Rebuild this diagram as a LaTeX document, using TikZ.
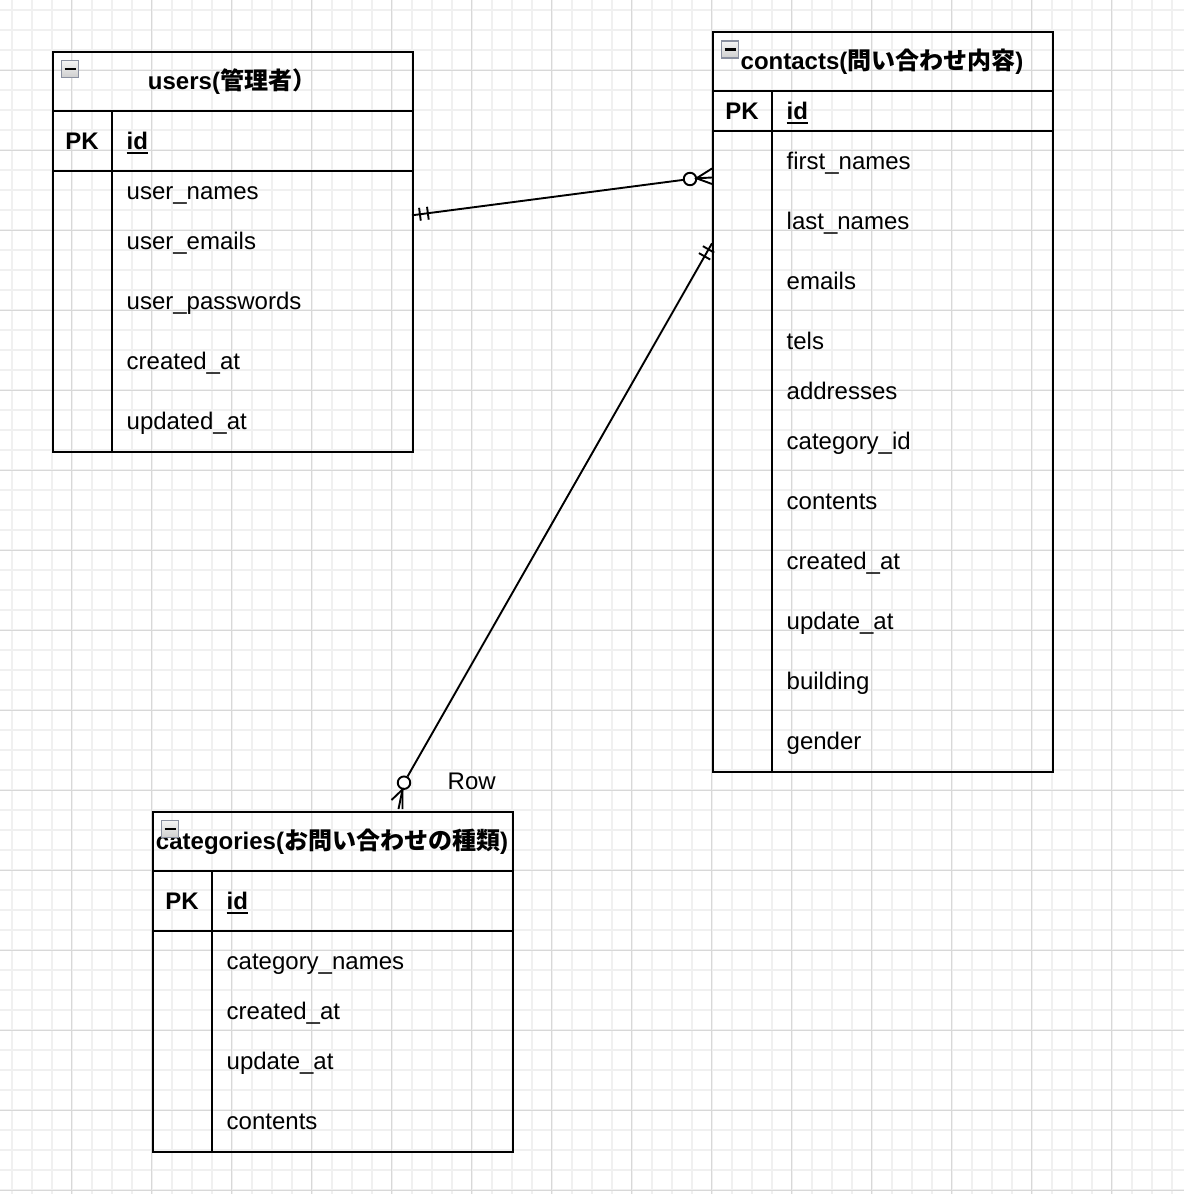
\documentclass[tikz,border=0pt]{standalone}
\usepackage{fontspec}
\setmainfont{Liberation Sans}
\newfontfamily\cjk{Noto Sans CJK JP}
\usetikzlibrary{calc}
\definecolor{gridminor}{HTML}{F0F0F0}
\definecolor{gridmajor}{HTML}{D8D8D8}
\definecolor{iconborder}{HTML}{8A90A0}
\newcommand\myul[1]{\setbox0\hbox{#1}\rlap{\rule[-4.2pt]{\wd0}{1.6pt}}\box0}
\begin{document}
\begin{tikzpicture}[x=1pt,y=-1pt,
  tbl/.style={draw=black, line width=2pt, anchor=north west, inner sep=0pt},
  rowline/.style={line width=2pt},
  fld/.style={anchor=base west, inner sep=0pt, font=\fontsize{24}{28}\selectfont},
  idf/.style={anchor=base west, inner sep=0pt, font=\fontsize{24}{28}\selectfont\bfseries},
  pk/.style={anchor=base, inner sep=0pt, font=\fontsize{24}{28}\selectfont\bfseries},
  ttl/.style={anchor=base, inner sep=0pt, font=\fontsize{24}{28}\selectfont\bfseries},
  conn/.style={line width=1.9pt},
  er/.style={circle, draw=black, fill=white, line width=1.9pt, minimum size=12.5pt, inner sep=0pt},
  icon/.style={draw=iconborder, line width=1.5pt, top color=gray!8, bottom color=gray!38, minimum size=17pt, inner sep=0pt},
  minus/.style={line width=2.2pt, black},
]
\useasboundingbox (0,0) rectangle (1184,1194);
\fill[white] (0,0) rectangle (1184,1194);
% grid
\foreach \x in {11.7,31.7,...,1184} \draw[gridminor, line width=1.6pt] (\x,0) -- (\x,1194);
\foreach \y in {10,30,...,1194} \draw[gridminor, line width=1.6pt] (0,\y) -- (1184,\y);
\foreach \x in {71.7,151.7,...,1184} \draw[gridmajor, line width=1pt] (\x,0) -- (\x,1194);
\foreach \y in {70,150,...,1194} \draw[gridmajor, line width=1pt] (0,\y) -- (1184,\y);

% ---------- users ----------
\node[tbl, minimum width=360pt, minimum height=400pt] (users) at (52,51) {};
\draw[rowline] (52,111) -- (412,111);
\draw[rowline] (52,171) -- (412,171);
\draw[rowline] (112,111) -- (112,451);
\node[ttl] (usersT) at (232,89) {users({\cjk 管理者）}};
\node[pk] (usersPK) at (82,149.5) {PK};
\node[idf] (usersID) at (126.5,149.5) {\myul{id}};
\foreach \y/\t [count=\i] in {191/user\_names,241/user\_emails,301/user\_passwords,361/created\_at,421/updated\_at}
  \node[fld] (uf\i) at (126.5,\y+8.5) {\t};
\node[icon] (uicon) at (70,69) {};
\draw[minus] (uicon.center) ++(-5.5,0) -- ++(11,0);

% ---------- contacts ----------
\node[tbl, minimum width=340pt, minimum height=740pt] (contacts) at (712,31) {};
\draw[rowline] (712,91) -- (1052,91);
\draw[rowline] (712,131) -- (1052,131);
\draw[rowline] (772,91) -- (772,771);
\node[ttl] (contactsT) at (882,69.5) {contacts({\cjk 問い合わせ内容})};
\node[pk] (contactsPK) at (742,119.5) {PK};
\node[idf] (contactsID) at (786.5,119.5) {\myul{id}};
\foreach \y/\t [count=\i] in {161/first\_names,221/last\_names,281/emails,341/tels,391/addresses,441/category\_id,501/contents,561/created\_at,621/update\_at,681/building,741/gender}
  \node[fld] (cf\i) at (786.5,\y+8.5) {\t};
\node[icon] (cicon) at (730,49.5) {};
\draw[minus] (cicon.center) ++(-5.5,0) -- ++(11,0);

% ---------- categories ----------
\node[tbl, minimum width=360pt, minimum height=340pt] (categories) at (152,811) {};
\draw[rowline] (152,871) -- (512,871);
\draw[rowline] (152,931) -- (512,931);
\draw[rowline] (212,871) -- (212,1151);
\node[ttl] (categoriesT) at (332,849.5) {categories({\cjk お問い合わせの種類})};
\node[pk] (categoriesPK) at (182,909.5) {PK};
\node[idf] (categoriesID) at (226.5,909.5) {\myul{id}};
\foreach \y/\t [count=\i] in {961/category\_names,1011/created\_at,1061/update\_at,1121/contents}
  \node[fld] (gf\i) at (226.5,\y+8.5) {\t};
\node[icon] (gicon) at (170,829) {};
\draw[minus] (gicon.center) ++(-5.5,0) -- ++(11,0);

% ---------- connector users -> contacts ----------
\coordinate (uR) at (412,215.3);
\node[er] (c1) at (690,179) {};
\draw[conn] (uR) -- (c1);
\draw[conn] ($(uR)!8pt!(c1)!6.5pt!90:(c1)$) -- ($(uR)!8pt!(c1)!6.5pt!-90:(c1)$);
\draw[conn] ($(uR)!16pt!(c1)!6.5pt!90:(c1)$) -- ($(uR)!16pt!(c1)!6.5pt!-90:(c1)$);
\coordinate (cf1a) at (696.5,178.3);
\coordinate (t1a) at (712,168.5);
\coordinate (t1b) at (712,177.5);
\coordinate (t1c) at (712,184);
\draw[conn] (t1a) -- (cf1a) -- (t1c);
\draw[conn] (cf1a) -- (t1b);

% ---------- connector contacts -> categories ----------
\coordinate (cL) at (712,243.3);
\node[er] (c2) at (404,782.7) {};
\draw[conn] (cL) -- (c2);
\draw[conn] ($(cL)!7pt!(c2)!6.5pt!90:(c2)$) -- ($(cL)!7pt!(c2)!6.5pt!-90:(c2)$);
\draw[conn] ($(cL)!15pt!(c2)!6.5pt!90:(c2)$) -- ($(cL)!15pt!(c2)!6.5pt!-90:(c2)$);
\coordinate (cf2a) at (402.5,789.5);
\coordinate (t2a) at (391.5,800);
\coordinate (t2b) at (398.5,809);
\coordinate (t2c) at (402.5,809);
\draw[conn] (t2a) -- (cf2a) -- (t2c);
\draw[conn] (cf2a) -- (t2b);
\node[fld] (rowlbl) at (447.5,789.5) {Row};
\end{tikzpicture}
\end{document}
